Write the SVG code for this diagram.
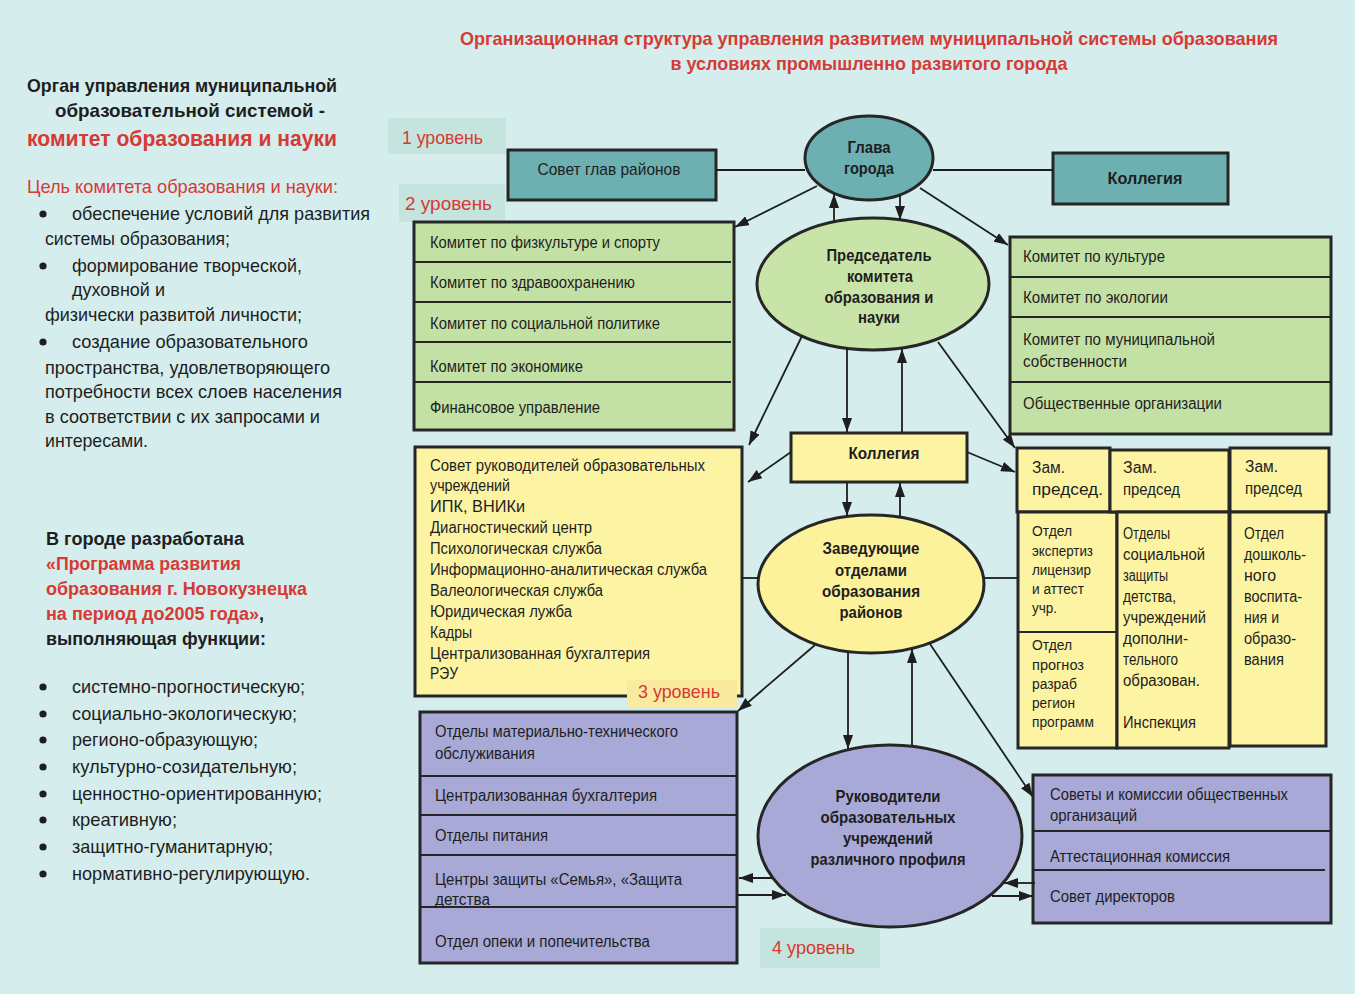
<svg xmlns="http://www.w3.org/2000/svg" width="1355" height="994" viewBox="0 0 1355 994">
<defs>
<style>
.bx{stroke:#262626;stroke-width:3}
.dv{stroke:#262626;stroke-width:1.8}
.teal{fill:#6cb0b2}
.grn{fill:#c4e1a5}
.yel{fill:#fcf3a3}
.pur{fill:#a8a9d6}
text{font-family:"Liberation Sans",Arial,sans-serif;fill:#1e1e1e}
.t{font-size:16px}
.s{font-size:14px}
.b{font-weight:bold;font-size:16.5px}
.red{fill:#d63a35}
.lv{font-size:19px;fill:#d63a35}
.lt{font-size:19px}
.lb{font-size:19px;font-weight:bold}
.lb2{font-size:18px;font-weight:bold}
.bul{fill:#1e1e1e}
.cn{stroke:#1e1e1e;stroke-width:1.8;fill:none}
.ar{marker-end:url(#ah)}
</style>
<marker id="ah" markerUnits="userSpaceOnUse" markerWidth="14" markerHeight="10" refX="14" refY="5" orient="auto">
<path d="M0,0 L14,5 L0,10 z" fill="#1e1e1e"/>
</marker>
</defs>
<rect x="0" y="0" width="1355" height="994" fill="#d5eded"/>

<g id="title">
<text x="869" y="45" text-anchor="middle" class="lb red" textLength="818" lengthAdjust="spacingAndGlyphs">Организационная структура управления развитием муниципальной системы образования</text>
<text x="869" y="70" text-anchor="middle" class="lb red" textLength="397" lengthAdjust="spacingAndGlyphs">в условиях промышленно развитого города</text>
</g>

<g id="left-text">
<text x="27" y="92" class="lb" textLength="310" lengthAdjust="spacingAndGlyphs">Орган управления муниципальной</text>
<text x="55" y="117" class="lb" textLength="270" lengthAdjust="spacingAndGlyphs">образовательной системой -</text>
<text x="27" y="146" class="red" style="font-size:22px;font-weight:bold" textLength="310" lengthAdjust="spacingAndGlyphs">комитет образования и науки</text>
<text x="27" y="193" class="lt red" textLength="311" lengthAdjust="spacingAndGlyphs">Цель комитета образования и науки:</text>
<circle cx="43" cy="214" r="3.6" class="bul"/>
<text x="72" y="220" class="lt" textLength="298" lengthAdjust="spacingAndGlyphs">обеспечение условий для развития</text>
<text x="45" y="245" class="lt" textLength="185" lengthAdjust="spacingAndGlyphs">системы образования;</text>
<circle cx="43" cy="266" r="3.6" class="bul"/>
<text x="72" y="272" class="lt" textLength="230" lengthAdjust="spacingAndGlyphs">формирование творческой,</text>
<text x="72" y="296" class="lt" textLength="93" lengthAdjust="spacingAndGlyphs">духовной и</text>
<text x="45" y="321" class="lt" textLength="257" lengthAdjust="spacingAndGlyphs">физически развитой личности;</text>
<circle cx="43" cy="342" r="3.6" class="bul"/>
<text x="72" y="348" class="lt" textLength="236" lengthAdjust="spacingAndGlyphs">создание образовательного</text>
<text x="45" y="374" class="lt" textLength="285" lengthAdjust="spacingAndGlyphs">пространства, удовлетворяющего</text>
<text x="45" y="398" class="lt" textLength="297" lengthAdjust="spacingAndGlyphs">потребности всех слоев населения</text>
<text x="45" y="423" class="lt" textLength="275" lengthAdjust="spacingAndGlyphs">в соответствии с их запросами и</text>
<text x="45" y="447" class="lt" textLength="103" lengthAdjust="spacingAndGlyphs">интересами.</text>

<text x="46" y="545" class="lb2" textLength="198" lengthAdjust="spacingAndGlyphs">В городе разработана</text>
<text x="46" y="570" class="lb2 red" textLength="195" lengthAdjust="spacingAndGlyphs">«Программа развития</text>
<text x="46" y="595" class="lb2 red" textLength="261" lengthAdjust="spacingAndGlyphs">образования г. Новокузнецка</text>
<text x="46" y="620" class="lb2" textLength="218" lengthAdjust="spacingAndGlyphs"><tspan class="red">на период до2005 года»</tspan>,</text>
<text x="46" y="645" class="lb2" textLength="220" lengthAdjust="spacingAndGlyphs">выполняющая функции:</text>

<circle cx="43" cy="687" r="3.6" class="bul"/>
<text x="72" y="693" class="lt" textLength="233" lengthAdjust="spacingAndGlyphs">системно-прогностическую;</text>
<circle cx="43" cy="714" r="3.6" class="bul"/>
<text x="72" y="720" class="lt" textLength="225" lengthAdjust="spacingAndGlyphs">социально-экологическую;</text>
<circle cx="43" cy="740" r="3.6" class="bul"/>
<text x="72" y="746" class="lt" textLength="186" lengthAdjust="spacingAndGlyphs">регионо-образующую;</text>
<circle cx="43" cy="767" r="3.6" class="bul"/>
<text x="72" y="773" class="lt" textLength="225" lengthAdjust="spacingAndGlyphs">культурно-созидательную;</text>
<circle cx="43" cy="794" r="3.6" class="bul"/>
<text x="72" y="800" class="lt" textLength="250" lengthAdjust="spacingAndGlyphs">ценностно-ориентированную;</text>
<circle cx="43" cy="820" r="3.6" class="bul"/>
<text x="72" y="826" class="lt" textLength="105" lengthAdjust="spacingAndGlyphs">креативную;</text>
<circle cx="43" cy="847" r="3.6" class="bul"/>
<text x="72" y="853" class="lt" textLength="201" lengthAdjust="spacingAndGlyphs">защитно-гуманитарную;</text>
<circle cx="43" cy="874" r="3.6" class="bul"/>
<text x="72" y="880" class="lt" textLength="238" lengthAdjust="spacingAndGlyphs">нормативно-регулирующую.</text>
</g>

<g id="level-1">
<rect x="388" y="118" width="118" height="36" fill="#c5e4de"/>
<text x="402" y="144" class="lv" textLength="81" lengthAdjust="spacingAndGlyphs">1 уровень</text>
</g>
<g id="level-2">
<rect x="399" y="184" width="106" height="38" fill="#c5e4de"/>
<text x="405" y="210" class="lv" textLength="87" lengthAdjust="spacingAndGlyphs">2 уровень</text>
</g>

<g id="n-sovet-glav">
<rect x="508" y="150" width="208" height="50" class="bx teal"/>
<text x="609" y="175" text-anchor="middle" style="font-size:17px" textLength="143" lengthAdjust="spacingAndGlyphs">Совет глав районов</text>
</g>

<g id="n-glava">
<ellipse cx="869" cy="158" rx="64" ry="42" class="bx teal"/>
<text x="869" y="153" text-anchor="middle" class="b" textLength="43" lengthAdjust="spacingAndGlyphs">Глава</text>
<text x="869" y="174" text-anchor="middle" class="b" textLength="50" lengthAdjust="spacingAndGlyphs">города</text>
</g>

<g id="n-kollegia-top">
<rect x="1053" y="153" width="175" height="51" class="bx teal"/>
<text x="1145" y="184" text-anchor="middle" class="b" textLength="75" lengthAdjust="spacingAndGlyphs">Коллегия</text>
</g>

<g id="n-green-left">
<rect x="414" y="222" width="320" height="208" class="bx grn"/>
<path d="M414,262H731M414,302H731M414,342H731M414,382H731" class="dv"/>
<text x="430" y="248" class="t" textLength="230" lengthAdjust="spacingAndGlyphs">Комитет по физкультуре и спорту</text>
<text x="430" y="288" class="t" textLength="205" lengthAdjust="spacingAndGlyphs">Комитет по здравоохранению</text>
<text x="430" y="329" class="t" textLength="230" lengthAdjust="spacingAndGlyphs">Комитет по социальной политике</text>
<text x="430" y="372" class="t" textLength="153" lengthAdjust="spacingAndGlyphs">Комитет по экономике</text>
<text x="430" y="413" class="t" textLength="170" lengthAdjust="spacingAndGlyphs">Финансовое управление</text>
</g>

<g id="n-predsedatel">
<ellipse cx="873" cy="284" rx="116" ry="66" class="bx" fill="#c9e4a8"/>
<text x="879" y="261" text-anchor="middle" class="b" textLength="105" lengthAdjust="spacingAndGlyphs">Председатель</text>
<text x="880" y="282" text-anchor="middle" class="b" textLength="66" lengthAdjust="spacingAndGlyphs">комитета</text>
<text x="879" y="303" text-anchor="middle" class="b" textLength="109" lengthAdjust="spacingAndGlyphs">образования и</text>
<text x="879" y="323" text-anchor="middle" class="b" textLength="42" lengthAdjust="spacingAndGlyphs">науки</text>
</g>

<g id="n-green-right">
<rect x="1010" y="237" width="321" height="197" class="bx grn"/>
<path d="M1010,277H1331M1010,317H1331M1010,382H1331" class="dv"/>
<text x="1023" y="262" class="t" textLength="142" lengthAdjust="spacingAndGlyphs">Комитет по культуре</text>
<text x="1023" y="303" class="t" textLength="145" lengthAdjust="spacingAndGlyphs">Комитет по экологии</text>
<text x="1023" y="345" class="t" textLength="192" lengthAdjust="spacingAndGlyphs">Комитет по муниципальной</text>
<text x="1023" y="367" class="t" textLength="104" lengthAdjust="spacingAndGlyphs">собственности</text>
<text x="1023" y="409" class="t" textLength="199" lengthAdjust="spacingAndGlyphs">Общественные организации</text>
</g>

<g id="n-kollegia-mid">
<rect x="791" y="433" width="176" height="49" class="bx yel"/>
<text x="884" y="459" text-anchor="middle" class="b" textLength="71" lengthAdjust="spacingAndGlyphs">Коллегия</text>
</g>

<g id="n-yellow-left">
<rect x="415" y="447" width="327" height="249" class="bx yel"/>
<text x="430" y="471" class="t" textLength="275" lengthAdjust="spacingAndGlyphs">Совет руководителей образовательных</text>
<text x="430" y="491" class="t" textLength="80" lengthAdjust="spacingAndGlyphs">учреждений</text>
<text x="430" y="512" class="t" textLength="95" lengthAdjust="spacingAndGlyphs">ИПК, ВНИКи</text>
<text x="430" y="533" class="t" textLength="162" lengthAdjust="spacingAndGlyphs">Диагностический центр</text>
<text x="430" y="554" class="t" textLength="172" lengthAdjust="spacingAndGlyphs">Психологическая служба</text>
<text x="430" y="575" class="t" textLength="277" lengthAdjust="spacingAndGlyphs">Информационно-аналитическая служба</text>
<text x="430" y="596" class="t" textLength="173" lengthAdjust="spacingAndGlyphs">Валеологическая служба</text>
<text x="430" y="617" class="t" textLength="142" lengthAdjust="spacingAndGlyphs">Юридическая лужба</text>
<text x="430" y="638" class="t" textLength="42" lengthAdjust="spacingAndGlyphs">Кадры</text>
<text x="430" y="659" class="t" textLength="220" lengthAdjust="spacingAndGlyphs">Централизованная бухгалтерия</text>
<text x="430" y="679" class="t" textLength="28" lengthAdjust="spacingAndGlyphs">РЭУ</text>
</g>
<g id="level-3">
<rect x="627" y="680" width="110" height="28" fill="#faea9f"/>
<text x="638" y="698" class="lv" textLength="82" lengthAdjust="spacingAndGlyphs">3 уровень</text>
</g>

<g id="n-zaveduyushchie">
<ellipse cx="871" cy="584" rx="113" ry="69" class="bx" fill="#fcf29c"/>
<text x="871" y="554" text-anchor="middle" class="b" textLength="97" lengthAdjust="spacingAndGlyphs">Заведующие</text>
<text x="871" y="576" text-anchor="middle" class="b" textLength="72" lengthAdjust="spacingAndGlyphs">отделами</text>
<text x="871" y="597" text-anchor="middle" class="b" textLength="98" lengthAdjust="spacingAndGlyphs">образования</text>
<text x="871" y="618" text-anchor="middle" class="b" textLength="63" lengthAdjust="spacingAndGlyphs">районов</text>
</g>

<g id="n-zam1">
<rect x="1017" y="448" width="93" height="64" class="bx yel"/>
<text x="1032" y="473" class="t" textLength="33" lengthAdjust="spacingAndGlyphs">Зам.</text>
<text x="1032" y="495" class="t" textLength="71" lengthAdjust="spacingAndGlyphs">председ.</text>
<rect x="1018" y="512" width="99" height="236" class="bx yel"/>
<path d="M1018,632H1116" class="dv"/>
<text x="1032" y="536" class="s" textLength="40" lengthAdjust="spacingAndGlyphs">Отдел</text>
<text x="1032" y="556" class="s" textLength="61" lengthAdjust="spacingAndGlyphs">экспертиз</text>
<text x="1032" y="575" class="s" textLength="59" lengthAdjust="spacingAndGlyphs">лицензир</text>
<text x="1032" y="594" class="s" textLength="52" lengthAdjust="spacingAndGlyphs">и аттест</text>
<text x="1032" y="613" class="s" textLength="25" lengthAdjust="spacingAndGlyphs">учр.</text>
<text x="1032" y="650" class="s" textLength="40" lengthAdjust="spacingAndGlyphs">Отдел</text>
<text x="1032" y="670" class="s" textLength="52" lengthAdjust="spacingAndGlyphs">прогноз</text>
<text x="1032" y="689" class="s" textLength="45" lengthAdjust="spacingAndGlyphs">разраб</text>
<text x="1032" y="708" class="s" textLength="43" lengthAdjust="spacingAndGlyphs">регион</text>
<text x="1032" y="727" class="s" textLength="62" lengthAdjust="spacingAndGlyphs">программ</text>
</g>

<g id="n-zam2">
<rect x="1110" y="450" width="119" height="62" class="bx yel"/>
<text x="1123" y="473" class="t" textLength="34" lengthAdjust="spacingAndGlyphs">Зам.</text>
<text x="1123" y="495" class="t" textLength="57" lengthAdjust="spacingAndGlyphs">председ</text>
<rect x="1117" y="512" width="112" height="236" class="bx yel"/>
<text x="1123" y="539" class="t" textLength="47" lengthAdjust="spacingAndGlyphs">Отделы</text>
<text x="1123" y="560" class="t" textLength="82" lengthAdjust="spacingAndGlyphs">социальной</text>
<text x="1123" y="581" class="t" textLength="45" lengthAdjust="spacingAndGlyphs">защиты</text>
<text x="1123" y="602" class="t" textLength="53" lengthAdjust="spacingAndGlyphs">детства,</text>
<text x="1123" y="623" class="t" textLength="83" lengthAdjust="spacingAndGlyphs">учреждений</text>
<text x="1123" y="644" class="t" textLength="65" lengthAdjust="spacingAndGlyphs">дополни-</text>
<text x="1123" y="665" class="t" textLength="55" lengthAdjust="spacingAndGlyphs">тельного</text>
<text x="1123" y="686" class="t" textLength="77" lengthAdjust="spacingAndGlyphs">образован.</text>
<text x="1123" y="728" class="t" textLength="73" lengthAdjust="spacingAndGlyphs">Инспекция</text>
</g>

<g id="n-zam3">
<rect x="1230" y="448" width="99" height="64" class="bx yel"/>
<text x="1245" y="472" class="t" textLength="33" lengthAdjust="spacingAndGlyphs">Зам.</text>
<text x="1245" y="494" class="t" textLength="57" lengthAdjust="spacingAndGlyphs">председ</text>
<rect x="1230" y="512" width="96" height="234" class="bx yel"/>
<text x="1244" y="539" class="t" textLength="40" lengthAdjust="spacingAndGlyphs">Отдел</text>
<text x="1244" y="560" class="t" textLength="62" lengthAdjust="spacingAndGlyphs">дошколь-</text>
<text x="1244" y="581" class="t" textLength="32" lengthAdjust="spacingAndGlyphs">ного</text>
<text x="1244" y="602" class="t" textLength="58" lengthAdjust="spacingAndGlyphs">воспита-</text>
<text x="1244" y="623" class="t" textLength="35" lengthAdjust="spacingAndGlyphs">ния и</text>
<text x="1244" y="644" class="t" textLength="52" lengthAdjust="spacingAndGlyphs">образо-</text>
<text x="1244" y="665" class="t" textLength="40" lengthAdjust="spacingAndGlyphs">вания</text>
</g>

<g id="n-purple-left">
<rect x="420" y="712" width="317" height="251" class="bx pur"/>
<path d="M420,776H737M420,815H737M420,855H737M420,907H737" class="dv"/>
<text x="435" y="737" class="t" textLength="243" lengthAdjust="spacingAndGlyphs">Отделы материально-технического</text>
<text x="435" y="759" class="t" textLength="100" lengthAdjust="spacingAndGlyphs">обслуживания</text>
<text x="435" y="801" class="t" textLength="222" lengthAdjust="spacingAndGlyphs">Централизованная бухгалтерия</text>
<text x="435" y="841" class="t" textLength="113" lengthAdjust="spacingAndGlyphs">Отделы питания</text>
<text x="435" y="885" class="t" textLength="247" lengthAdjust="spacingAndGlyphs">Центры защиты «Семья», «Защита</text>
<text x="435" y="905" class="t" textLength="55" lengthAdjust="spacingAndGlyphs">детства</text>
<text x="435" y="947" class="t" textLength="215" lengthAdjust="spacingAndGlyphs">Отдел опеки и попечительства</text>
</g>

<g id="n-rukovoditeli">
<ellipse cx="890" cy="836" rx="132" ry="91" class="bx pur"/>
<text x="888" y="802" text-anchor="middle" class="b" textLength="105" lengthAdjust="spacingAndGlyphs">Руководители</text>
<text x="888" y="823" text-anchor="middle" class="b" textLength="135" lengthAdjust="spacingAndGlyphs">образовательных</text>
<text x="888" y="844" text-anchor="middle" class="b" textLength="90" lengthAdjust="spacingAndGlyphs">учреждений</text>
<text x="888" y="865" text-anchor="middle" class="b" textLength="155" lengthAdjust="spacingAndGlyphs">различного профиля</text>
</g>

<g id="n-purple-right">
<rect x="1033" y="775" width="298" height="148" class="bx pur"/>
<path d="M1033,831H1331M1033,870H1325" class="dv"/>
<text x="1050" y="800" class="t" textLength="238" lengthAdjust="spacingAndGlyphs">Советы и комиссии общественных</text>
<text x="1050" y="821" class="t" textLength="87" lengthAdjust="spacingAndGlyphs">организаций</text>
<text x="1050" y="862" class="t" textLength="180" lengthAdjust="spacingAndGlyphs">Аттестационная комиссия</text>
<text x="1050" y="902" class="t" textLength="125" lengthAdjust="spacingAndGlyphs">Совет директоров</text>
</g>

<g id="level-4">
<rect x="760" y="928" width="120" height="40" fill="#c5e4de"/>
<text x="772" y="954" class="lv" textLength="83" lengthAdjust="spacingAndGlyphs">4 уровень</text>
</g>

<g id="connectors">
<path class="cn" d="M716,170H805"/>
<path class="cn" d="M933,170H1053"/>
<path class="cn ar" d="M817,186L735,227"/>
<path class="cn ar" d="M920,188L1008,245"/>
<path class="cn ar" d="M834,222V194"/>
<path class="cn ar" d="M900,195V220"/>
<path class="cn ar" d="M802,336L749,445"/>
<path class="cn ar" d="M847,348V432"/>
<path class="cn ar" d="M902,432V349"/>
<path class="cn ar" d="M938,342L1015,448"/>
<path class="cn ar" d="M791,452L748,482"/>
<path class="cn ar" d="M967,452L1015,472"/>
<path class="cn ar" d="M847,482V516"/>
<path class="cn ar" d="M900,517V483"/>
<path class="cn" d="M742,578H758"/>
<path class="cn" d="M985,578H1017"/>
<path class="cn ar" d="M815,645L738,711"/>
<path class="cn ar" d="M848,652V749"/>
<path class="cn ar" d="M912,746V649"/>
<path class="cn ar" d="M930,644L1033,797"/>
<path class="cn ar" d="M772,878H739"/>
<path class="cn ar" d="M738,895H786"/>
<path class="cn ar" d="M1035,883H1004"/>
<path class="cn ar" d="M992,896H1033"/>
</g>
</svg>
